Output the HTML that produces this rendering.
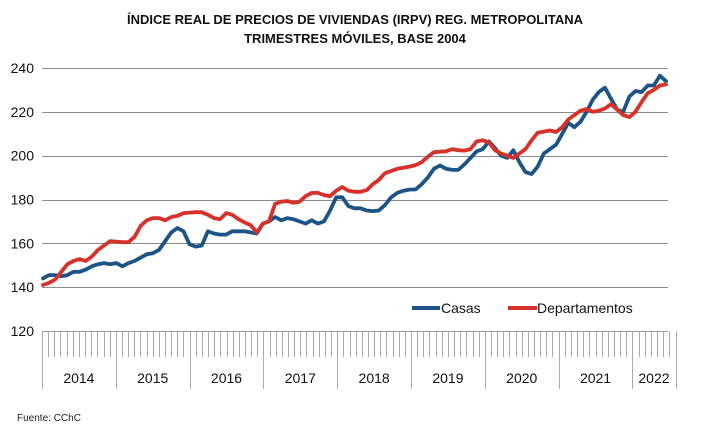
<!DOCTYPE html>
<html><head><meta charset="utf-8">
<style>
html,body{margin:0;padding:0;background:#fff;}
svg{display:block;font-family:"Liberation Sans",Arial,sans-serif;}
</style></head>
<body>
<svg id="chart" width="708" height="429" viewBox="0 0 708 429">
<text x="355" y="24" text-anchor="middle" font-size="13" font-weight="bold" fill="#111">ÍNDICE REAL DE PRECIOS DE VIVIENDAS  (IRPV) REG. METROPOLITANA</text>
<text x="355" y="43" text-anchor="middle" font-size="13" font-weight="bold" fill="#111">TRIMESTRES MÓVILES, BASE 2004</text>
<g id="grid"></g><g id="xaxis"></g><g id="series"></g>
<g>
<line x1="412" y1="308" x2="440" y2="308" stroke="#1d5486" stroke-width="4"/>
<text x="441" y="313" font-size="14" fill="#111">Casas</text>
<line x1="508" y1="308" x2="537" y2="308" stroke="#d8312a" stroke-width="4"/>
<text x="537" y="313" font-size="14" fill="#111">Departamentos</text>
</g>
<text x="17" y="421" font-size="10" fill="#222">Fuente: CChC</text>
</svg>
<script>
const years = ["2014","2015","2016","2017","2018","2019","2020","2021","2022"];
const monthsPerYear = [12,12,12,12,12,12,12,12,7];
const yTicks = [120,140,160,180,200,220,240];
const casas = [144,145.5,145.5,145,145.5,147,147,148,149.5,150.5,151,150.5,
151,149.5,151,152,153.5,155,155.5,157,161,165,167,165.5,
159.5,158.5,159,165.5,164.5,164,164,165.5,165.5,165.5,165,164.5,
169,170,172,170.5,171.5,171,170,169,170.5,169,170,175,
181,181,177,176,176,175,174.7,175,177.5,181,183,184,
184.5,184.6,187,190,194,195.5,194,193.5,193.5,196,199,202,
203,206.5,203.5,200,199,202.5,197,192.5,191.6,195,201,203,
205,210,215,213,215.5,220,225.5,229,231,226,221,220,
227,229.5,229,232,232,236.5,234];
const departamentos = [141,142,143.5,147,150.5,152,152.8,152,154,157,159,161,
160.8,160.5,160.5,163,168,170.5,171.5,171.5,170.5,172,172.5,173.8,
174,174.2,174.2,173,171.5,171,173.8,173,171,169.5,168.3,165,
169,170,178,179,179.3,178.5,179,181.5,183,183,182,181.5,
184,185.7,184,183.5,183.5,184.3,187,189,192,193,194,194.5,
195,195.7,197,199.5,201.6,201.8,202,203,202.5,202.3,203,206.5,
207,206,202.5,201,200,199,201,203,207,210.5,211,211.5,
210.8,213,216.5,218.5,220.5,221.3,220,220.5,221.5,223.5,221,218.5,
217.6,220,224.5,228.5,230,232,232.5];

const NS="http://www.w3.org/2000/svg";
const X0=42, XEND=675.5, GRIDR=668, Y0=331, YTOP=68, VMIN=120, VMAX=240;
const totalMonths = monthsPerYear.reduce((a,b)=>a+b,0);
const mstep=(XEND-X0)/totalMonths;
const PX0=43, PX1=666;
function xs(i){return PX0+i*(PX1-PX0)/(totalMonths-1);}
function xm(i){return X0+i*mstep;}
function ys(v){return Y0-(v-VMIN)/(VMAX-VMIN)*(Y0-YTOP);}
function mk(tag,attrs,parent){const e=document.createElementNS(NS,tag);for(const k in attrs)e.setAttribute(k,attrs[k]);parent.appendChild(e);return e;}

const grid=document.getElementById('grid');
yTicks.forEach(v=>{
  const y=Math.round(ys(v))+0.5;
  const ln=mk('line',{x1:X0,x2:GRIDR,y1:y,y2:y,stroke:v===VMIN?'#999':'#8c8c8c','stroke-width':1},grid);
  
  
  const t=mk('text',{x:34,y:ys(v)+5,'text-anchor':'end','font-size':14,fill:'#111'},grid);
  t.textContent=v;
  
  
});

const xa=document.getElementById('xaxis');
for(let i=0;i<=totalMonths;i++){
  const x=Math.round(xm(i))+0.5;
  const tk=mk('line',{x1:x,x2:x,y1:Y0,y2:357,stroke:'#aaa','stroke-width':1},xa);
  
  
}
let start=0;
years.forEach((yr,k)=>{
  const xl=xm(start);
  const end=start+monthsPerYear[k];
  const xr=xm(end);
  const d=mk('line',{x1:Math.round(xl)+0.5,x2:Math.round(xl)+0.5,y1:Y0,y2:389,stroke:'#aaa','stroke-width':1},xa);
  
  
  const t=mk('text',{x:(xl+xr)/2,y:383,'text-anchor':'middle','font-size':14,fill:'#111'},xa);
  t.textContent=yr;
  
  
  start=end;
});
const dEnd=mk('line',{x1:Math.round(XEND)+0.5,x2:Math.round(XEND)+0.5,y1:Y0,y2:389,stroke:'#aaa','stroke-width':1},xa);



const sg=document.getElementById('series');
function line(arr,color,name){
  const pts=arr.map((v,i)=>xs(i).toFixed(1)+','+ys(v).toFixed(1)).join(' ');
  const p=mk('polyline',{points:pts,fill:'none',stroke:color,'stroke-width':3.8,'stroke-linejoin':'round','stroke-linecap':'round'},sg);
  
  
}
line(casas,'#1d5486','series-casas');
line(departamentos,'#d8312a','series-departamentos');
</script>
</body></html>
